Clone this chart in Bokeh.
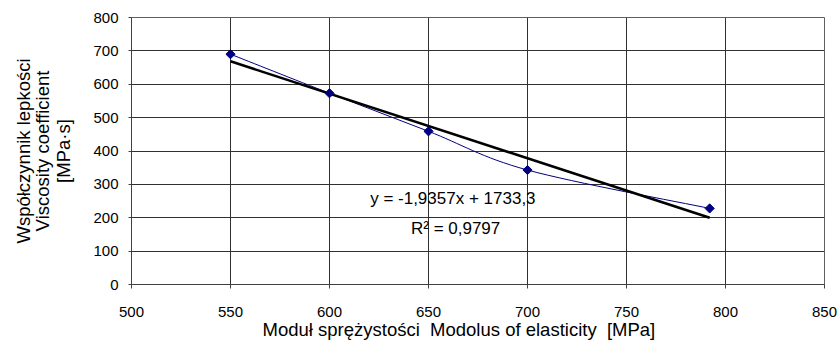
import math
from bokeh.plotting import figure
from bokeh.models import FixedTicker, ColumnDataSource, Label, Title
from bokeh.embed import file_html
from bokeh.resources import INLINE

# Data
modulus = [550, 600, 650, 700, 792]          # MPa
viscosity = [690, 573, 459, 343, 228]        # MPa·s
slope = -1.9357
intercept = 1733.3
r2_text = "R² = 0,9797"
eq_text = "y = -1,9357x + 1733,3"
x_ticks = [500, 550, 600, 650, 700, 750, 800, 850]
y_ticks = [0, 100, 200, 300, 400, 500, 600, 700, 800]
x_title = "Moduł sprężystości\u00a0 Modolus of elasticity\u00a0 [MPa]"
y_title_lines = ["Współczynnik lepkości", "Viscosity coefficient", "[MPa·s]"]

FONT = "Liberation Sans"

p = figure(width=840, height=360, x_range=(500, 850), y_range=(0, 800),
           output_backend="svg", toolbar_location=None,
           min_border_left=131, min_border_right=16, min_border_top=17, min_border_bottom=76)
p.background_fill_color = "white"
p.border_fill_color = "white"
p.outline_line_color = "#606060"
p.outline_line_width = 1

p.xaxis.ticker = FixedTicker(ticks=x_ticks)
p.yaxis.ticker = FixedTicker(ticks=y_ticks)
p.xaxis.minor_tick_line_color = None
p.yaxis.minor_tick_line_color = None
p.xaxis.major_tick_out = 4
p.xaxis.major_tick_in = 0
p.yaxis.major_tick_out = 3
p.yaxis.major_tick_in = 0
for ax in (p.xaxis, p.yaxis):
    ax.axis_line_color = "#404040"
    ax.major_tick_line_color = "#404040"
    ax.major_label_text_font = FONT
    ax.major_label_text_font_size = "15px"
    ax.major_label_text_color = "black"
p.xaxis.major_label_standoff = 18
p.yaxis.major_label_standoff = 10

# y title: innermost line as the axis label, outer lines as titles
p.yaxis.axis_label = y_title_lines[2]
p.yaxis.axis_label_standoff = 16
p.yaxis.axis_label_text_font = FONT
p.yaxis.axis_label_text_font_size = "18.5px"
p.yaxis.axis_label_text_font_style = "normal"
p.yaxis.axis_label_text_color = "black"
for line, so in ((y_title_lines[1], -6), (y_title_lines[0], -2)):
    p.add_layout(Title(text=line, align="center", vertical_align="middle",
                       standoff=so, text_font=FONT, text_font_size="18.5px",
                       text_font_style="normal", text_color="black"), "left")

# x title
p.add_layout(Title(text=x_title, align="left", offset=131, vertical_align="middle",
                   standoff=-3, text_font=FONT, text_font_size="18.5px",
                   text_font_style="normal", text_color="black"), "below")

p.xgrid.ticker = FixedTicker(ticks=x_ticks)
p.ygrid.ticker = FixedTicker(ticks=y_ticks)
p.xgrid.grid_line_color = "#303030"
p.ygrid.grid_line_color = "#303030"
p.xgrid.grid_line_width = 1
p.ygrid.grid_line_width = 1

# Smoothed (Catmull-Rom -> Bezier) connecting line, as Excel's smoothed line
n = len(modulus)
pts = list(zip(modulus, viscosity))
x0s, y0s, x1s, y1s, cx0s, cy0s, cx1s, cy1s = [], [], [], [], [], [], [], []
for i in range(n - 1):
    pm = pts[i - 1] if i > 0 else pts[i]
    a = pts[i]
    b = pts[i + 1]
    pn = pts[i + 2] if i + 2 < n else pts[i + 1]
    x0s.append(a[0]); y0s.append(a[1])
    x1s.append(b[0]); y1s.append(b[1])
    cx0s.append(a[0] + (b[0] - pm[0]) / 6.0)
    cy0s.append(a[1] + (b[1] - pm[1]) / 6.0)
    cx1s.append(b[0] - (pn[0] - a[0]) / 6.0)
    cy1s.append(b[1] - (pn[1] - a[1]) / 6.0)
bsrc = ColumnDataSource(dict(x0=x0s, y0=y0s, x1=x1s, y1=y1s,
                             cx0=cx0s, cy0=cy0s, cx1=cx1s, cy1=cy1s))
p.bezier(x0="x0", y0="y0", x1="x1", y1="y1", cx0="cx0", cy0="cy0",
         cx1="cx1", cy1="cy1", source=bsrc, line_color="#000080", line_width=1)

# Linear trend line
tx = [min(modulus), max(modulus)]
ty = [slope * v + intercept for v in tx]
p.line(tx, ty, line_color="black", line_width=2.6)

# Markers (diamonds = squares rotated 45°)
p.scatter(modulus, viscosity, marker="square", size=6.5, angle=math.pi / 4,
          fill_color="#000080", line_color="#000080")

# Equation labels
p.add_layout(Label(x=662.3, y=257.7, text=eq_text, text_align="center",
                   text_baseline="middle", text_font=FONT, text_font_size="17px",
                   text_color="black"))
p.add_layout(Label(x=663.7, y=168, text=r2_text, text_align="center",
                   text_baseline="middle", text_font=FONT, text_font_size="17px",
                   text_color="black"))

open("out.html", "w").write(file_html(p, INLINE))
